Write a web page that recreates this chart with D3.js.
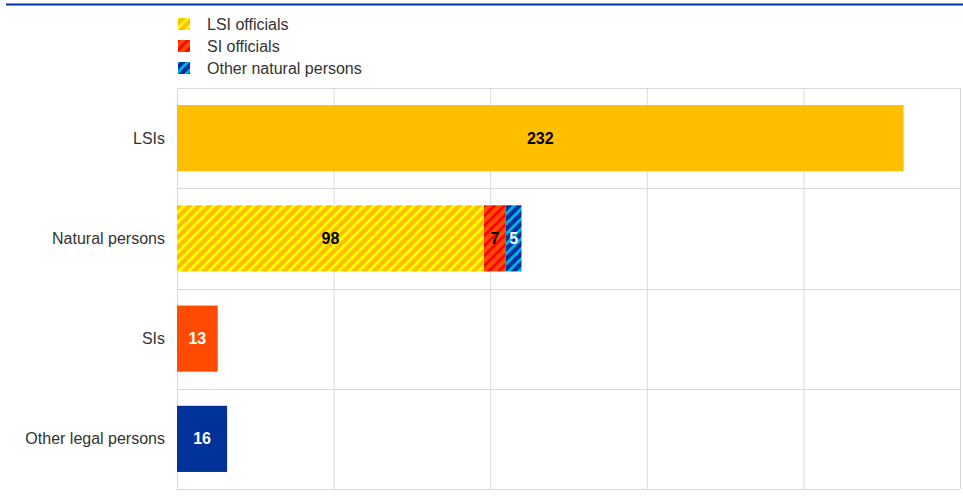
<!DOCTYPE html>
<html>
<head>
<meta charset="utf-8">
<script src="https://cdn.jsdelivr.net/npm/d3@7"></script>
<style>
  body { margin: 0; background: #fff; }
  svg { display: block; font-family: "Liberation Sans", Arial, sans-serif; }
</style>
</head>
<body>
<div id="chart"></div>
<script>
// values
const categories = ["LSIs", "Natural persons", "SIs", "Other legal persons"]
const hatched = [false, true, false, false]
const seriesNames = ["LSI officials", "SI officials", "Other natural persons"]
const yellowSeg = [232, 98, 0, 0]
const redSeg = [0, 7, 13, 0]
const blueSeg = [0, 5, 0, 16]
const xTicks = [0, 50, 100, 150, 200, 250]

const width = 963, height = 501
const plotLeft = 177, plotRight = 960, plotTop = 88, plotBottom = 489

const svg = d3.select("#chart").append("svg")
  .attr("width", width).attr("height", height)

// colour sets: solid, stripe, label colour (solid / hatched)
const palette = [
  {base: "#ffbf00", stripe: "#ffff00", txt: "#000", txtH: "#000"},
  {base: "#ff4b00", stripe: "#ff0000", txt: "#fff", txtH: "#000"},
  {base: "#003299", stripe: "#00b1ea", txt: "#fff", txtH: "#fff"}
]

let defs = svg.append("defs")
palette.forEach((p, i) => {
  let pat = defs.append("pattern")
    .attr("id", "hatch" + i)
    .attr("patternUnits", "userSpaceOnUse")
    .attr("width", 10).attr("height", 10)
  pat.append("rect").attr("width", 10).attr("height", 10).attr("fill", p.base)
  pat.append("path")
    .attr("d", "M-3,3 L3,-3 M0,10 L10,0 M7,13 L13,7")
    .attr("stroke", p.stripe)
    .attr("stroke-width", 2.8)
})

// top rule
svg.append("line")
  .attr("x1", 6).attr("x2", width).attr("y1", 4.5).attr("y2", 4.5)
  .attr("stroke", "#003299").attr("stroke-width", 2)

let x = d3.scaleLinear().domain([0, 250]).range([plotLeft, plotRight])
let y = d3.scaleBand().domain(categories).range([plotTop, plotBottom])
  .paddingInner(0.34).paddingOuter(0.17)

// vertical grid
svg.append("g")
  .attr("transform", `translate(0,${plotBottom})`)
  .call(d3.axisBottom(x).tickValues(xTicks).tickSize(0).tickFormat(""))
  .call(g => g.select(".domain").remove())
  .call(g => g.selectAll(".tick line")
    .attr("y2", -(plotBottom - plotTop))
    .attr("stroke", "#d9d9d9"))

// horizontal band separators
let bounds = categories.map(c => y(c) - y.step() * y.paddingInner() / 2)
bounds.push(plotBottom)
svg.append("g").selectAll("line")
  .data(bounds)
  .join("line")
  .attr("x1", plotLeft).attr("x2", plotRight)
  .attr("y1", d => Math.round(d) + 0.5).attr("y2", d => Math.round(d) + 0.5)
  .attr("stroke", "#d9d9d9")

// category labels
svg.append("g").selectAll("text")
  .data(categories)
  .join("text")
  .attr("x", 165)
  .attr("y", d => y(d) + y.bandwidth() / 2)
  .attr("dy", "0.35em")
  .attr("text-anchor", "end")
  .attr("font-size", 16)
  .attr("fill", "#333")
  .text(d => d)

// stacked bars
let rows = categories.map((c, i) => ({cat: c, hatched: hatched[i], s0: yellowSeg[i], s1: redSeg[i], s2: blueSeg[i]}))
let stack = d3.stack().keys(["s0", "s1", "s2"])(rows)

stack.forEach((layer, si) => {
  let g = svg.append("g")
  let segs = layer.filter(d => d[1] - d[0] > 0)
  g.selectAll("rect")
    .data(segs)
    .join("rect")
    .attr("x", d => x(d[0]))
    .attr("y", d => y(d.data.cat))
    .attr("width", d => x(d[1]) - x(d[0]))
    .attr("height", y.bandwidth())
    .attr("fill", d => d.data.hatched ? `url(#hatch${si})` : palette[si].base)
  g.selectAll("text")
    .data(segs)
    .join("text")
    .attr("x", d => (x(d[0]) + x(d[1])) / 2)
    .attr("y", d => y(d.data.cat) + y.bandwidth() / 2)
    .attr("dy", "0.35em")
    .attr("text-anchor", "middle")
    .attr("font-size", 16)
    .attr("font-weight", "bold")
    .attr("fill", d => d.data.hatched ? palette[si].txtH : palette[si].txt)
    .text(d => d[1] - d[0])
})

// legend
let legend = svg.append("g").selectAll("g")
  .data(seriesNames)
  .join("g")
  .attr("transform", (d, i) => `translate(178,${18 + i * 22})`)
legend.append("rect")
  .attr("width", 12).attr("height", 12)
  .attr("fill", (d, i) => `url(#hatch${i})`)
legend.append("text")
  .attr("x", 29).attr("y", 6).attr("dy", "0.35em")
  .attr("font-size", 16)
  .attr("fill", "#333")
  .text(d => d)
</script>
</body>
</html>
